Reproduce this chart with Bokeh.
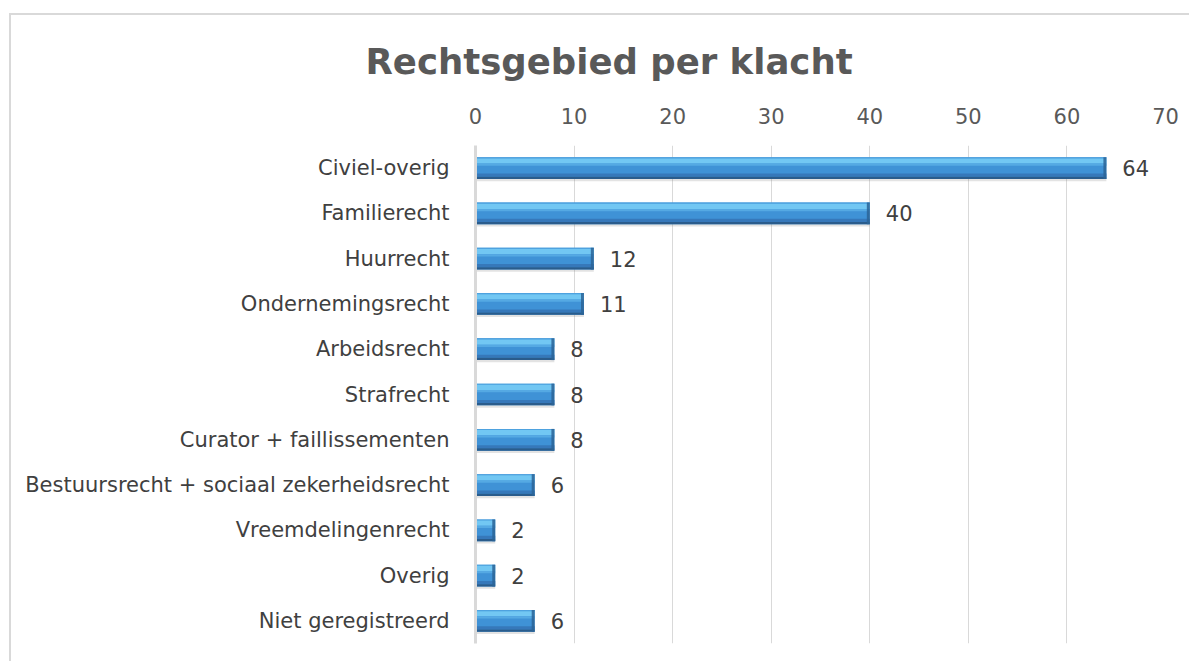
from bokeh.plotting import figure
from bokeh.models import FactorRange, Range1d, FixedTicker, ColumnDataSource, LabelSet
from bokeh.transform import dodge
from bokeh.core.properties import value
from bokeh.embed import file_html
from bokeh.resources import INLINE

# ---- data ----
categories = ["Civiel-overig", "Familierecht", "Huurrecht", "Ondernemingsrecht",
              "Arbeidsrecht", "Strafrecht", "Curator + faillissementen",
              "Bestuursrecht + sociaal zekerheidsrecht", "Vreemdelingenrecht",
              "Overig", "Niet geregistreerd"]
counts = [64, 40, 12, 11, 8, 8, 8, 6, 2, 2, 6]
x_ticks = [0, 10, 20, 30, 40, 50, 60, 70]
title_text = "Rechtsgebied per klacht"

FONT = "DejaVu Sans"
src = ColumnDataSource(dict(cat=categories, n=counts,
                            lbl=[str(c) for c in counts],
                            bev=[c - 0.3 for c in counts]))

p = figure(width=1180, height=648,
           y_range=FactorRange(*reversed(categories)),
           x_range=Range1d(0, 70), x_axis_location="above",
           output_backend="svg", toolbar_location=None,
           min_border_left=464, min_border_right=26,
           min_border_top=130, min_border_bottom=20)
p.outline_line_color = None
p.background_fill_color = "white"
p.border_fill_color = "white"
p.styles = {"margin-left": "9px", "margin-top": "13px",
            "border-left": "2px solid #D9D9D9",
            "border-top": "2px solid #D9D9D9"}

# title
p.title.text = title_text
p.title.text_font = FONT
p.title.text_font_style = "bold"
p.title.text_font_size = "35.5px"
p.title.text_color = "#595959"
p.title.align = "left"
p.title.offset = -110
p.title.standoff = 45

# grid
p.xgrid.ticker = FixedTicker(ticks=x_ticks)
p.xgrid.grid_line_color = "#D9D9D9"
p.ygrid.grid_line_color = None

# x axis (top)
xa = p.xaxis[0]
xa.ticker = FixedTicker(ticks=x_ticks)
xa.axis_line_color = None
xa.major_tick_line_color = None
xa.minor_tick_line_color = None
xa.major_label_text_font = FONT
xa.major_label_text_font_size = "21px"
xa.major_label_text_color = "#595959"
xa.major_label_standoff = 16

# y axis
ya = p.yaxis[0]
ya.axis_line_color = "#D9D9D9"
ya.axis_line_width = 3
ya.major_tick_line_color = None
ya.minor_tick_line_color = None
ya.major_label_text_font = FONT
ya.major_label_text_font_size = "21px"
ya.major_label_text_color = "#404040"
ya.major_label_standoff = 20

H = 0.48
# shadow
p.hbar(y=dodge("cat", -0.05, range=p.y_range), left=0, right="n", height=H,
       source=src, fill_color="#808080", fill_alpha=0.22, line_color=None)
# base bar
p.hbar(y="cat", left=0, right="n", height=H, source=src,
       fill_color="#3F92D6", line_color=None)
# stripes (pseudo gradient)
stripes = [(0.2275, 0.025, "#4EA2DF"),
           (0.1575, 0.115, "#72C7F3"),
           (0.075, 0.05, "#55A9E3"),
           (-0.155, 0.07, "#3678BA"),
           (-0.215, 0.05, "#2A5C8C")]
for off, h, col in stripes:
    p.hbar(y=dodge("cat", off, range=p.y_range), left=0, right="n", height=h,
           source=src, fill_color=col, line_color=None)
# right bevel
p.hbar(y="cat", left="bev", right="n", height=H, source=src,
       fill_color="#2C6496", fill_alpha=0.85, line_color=None)

# value labels
labels = LabelSet(x="n", y="cat", text="lbl", source=src, x_offset=16,
                  text_baseline="middle", text_font=value(FONT),
                  text_font_size=value("21px"), text_color="#404040")
p.add_layout(labels)

open("out.html", "w").write(file_html(p, INLINE))
